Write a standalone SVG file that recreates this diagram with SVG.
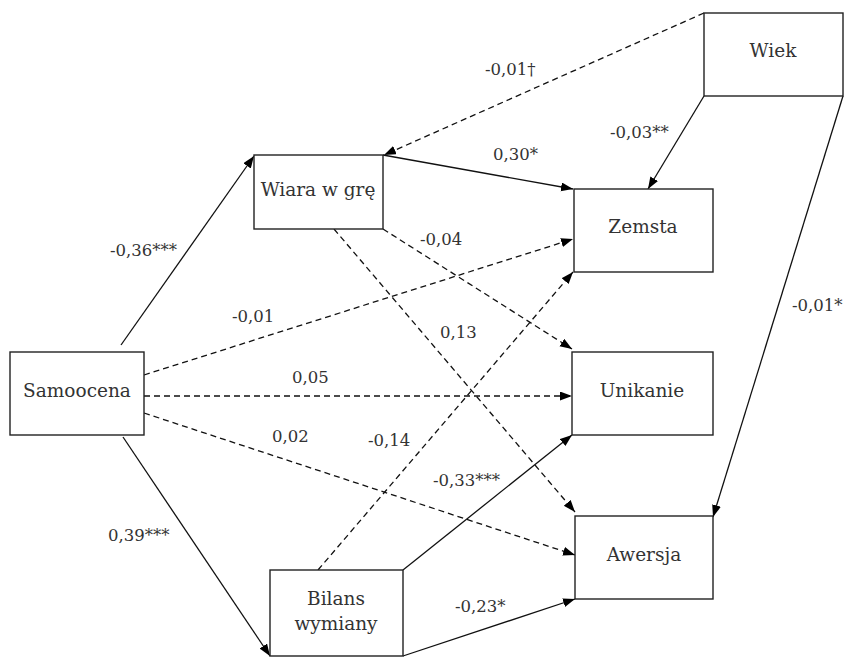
<svg xmlns="http://www.w3.org/2000/svg" width="845" height="657" viewBox="0 0 845 657">
<style>
.box{fill:#fff;stroke:#222;stroke-width:1.4}
.nt{font-family:"DejaVu Serif","Liberation Serif",serif;font-size:18.5px;fill:#333;text-anchor:middle}
.lb{font-family:"DejaVu Serif","Liberation Serif",serif;font-size:16.5px;fill:#333}
.s{fill:none;stroke:#111;stroke-width:1.3}
.d{fill:none;stroke:#111;stroke-width:1.3;stroke-dasharray:6 4}
</style>
<defs>
<marker id="ah" markerUnits="userSpaceOnUse" markerWidth="13" markerHeight="10" refX="12" refY="4.5" orient="auto">
<path d="M0,0 L12,4.5 L0,9 z" fill="#000"/>
</marker>
</defs>
<rect width="845" height="657" fill="#fff"/>
<g id="connectors">
<line class="s" x1="121" y1="345" x2="254" y2="156" marker-end="url(#ah)"/>
<line class="s" x1="123" y1="437" x2="270" y2="656" marker-end="url(#ah)"/>
<line class="d" x1="144" y1="375" x2="573" y2="239" marker-end="url(#ah)"/>
<line class="d" x1="144" y1="396" x2="572" y2="396" marker-end="url(#ah)"/>
<line class="d" x1="144" y1="413" x2="575" y2="555" marker-end="url(#ah)"/>
<line class="s" x1="383" y1="155" x2="573" y2="189" marker-end="url(#ah)"/>
<line class="d" x1="383" y1="229" x2="572" y2="349" marker-end="url(#ah)"/>
<line class="d" x1="334" y1="229" x2="575" y2="512" marker-end="url(#ah)"/>
<line class="d" x1="318" y1="570" x2="573" y2="272" marker-end="url(#ah)"/>
<line class="s" x1="403" y1="570" x2="572" y2="435" marker-end="url(#ah)"/>
<line class="s" x1="403" y1="656" x2="575" y2="599" marker-end="url(#ah)"/>
<line class="d" x1="704" y1="13" x2="384" y2="155" marker-end="url(#ah)"/>
<line class="s" x1="704" y1="96" x2="648" y2="189" marker-end="url(#ah)"/>
<line class="s" x1="843" y1="96" x2="713" y2="517" marker-end="url(#ah)"/>
</g>
<g id="wiara"><rect class="box" x="254" y="155" width="129" height="74"/><text class="nt" x="318" y="196">Wiara w grę</text></g>
<g id="wiek"><rect class="box" x="704" y="13" width="139" height="83"/><text class="nt" x="773" y="57">Wiek</text></g>
<g id="zemsta"><rect class="box" x="574" y="189" width="139" height="83"/><text class="nt" x="643" y="233">Zemsta</text></g>
<g id="samoocena"><rect class="box" x="10" y="352" width="134" height="83"/><text class="nt" x="77" y="397">Samoocena</text></g>
<g id="unikanie"><rect class="box" x="572" y="352" width="141" height="83"/><text class="nt" x="642" y="397">Unikanie</text></g>
<g id="awersja"><rect class="box" x="575" y="516" width="138" height="83"/><text class="nt" x="644" y="561">Awersja</text></g>
<g id="bilans"><rect class="box" x="270" y="570" width="133" height="86"/><text class="nt" x="336" y="605">Bilans</text><text class="nt" x="336" y="630">wymiany</text></g>
<g id="labels">
<text class="lb" x="110" y="256">-0,36***</text>
<text class="lb" x="232" y="322">-0,01</text>
<text class="lb" x="485" y="75">-0,01†</text>
<text class="lb" x="493" y="160">0,30*</text>
<text class="lb" x="610" y="138">-0,03**</text>
<text class="lb" x="420" y="245">-0,04</text>
<text class="lb" x="792" y="311">-0,01*</text>
<text class="lb" x="440" y="338">0,13</text>
<text class="lb" x="292" y="383">0,05</text>
<text class="lb" x="272" y="442">0,02</text>
<text class="lb" x="368" y="446">-0,14</text>
<text class="lb" x="108" y="541">0,39***</text>
<text class="lb" x="433" y="486">-0,33***</text>
<text class="lb" x="455" y="612">-0,23*</text>
</g>
</svg>
